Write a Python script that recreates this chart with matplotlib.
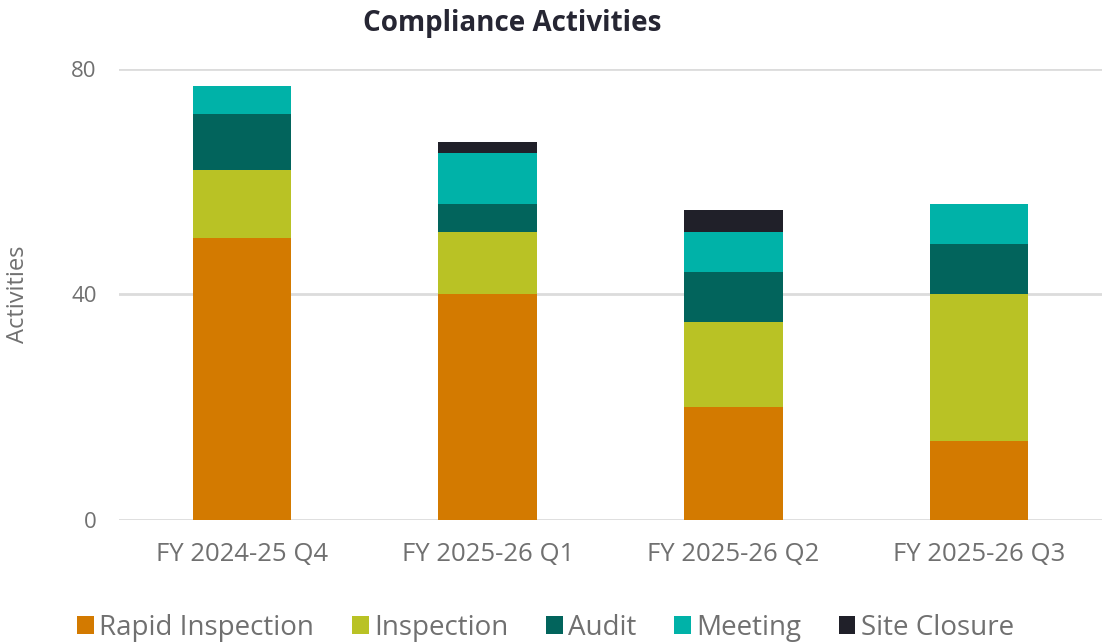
import numpy as np
import matplotlib
matplotlib.use('Agg')
import matplotlib.pyplot as plt

quarters = ['FY 2024-25 Q4', 'FY 2025-26 Q1', 'FY 2025-26 Q2', 'FY 2025-26 Q3']
rapid = [50, 40, 20, 14]
inspection = [12, 11, 15, 26]
audit = [10, 5, 9, 9]
meeting = [5, 9, 7, 7]
site_closure = [0, 2, 4, 0]

series = [('Rapid Inspection', rapid, '#D37A00'),
          ('Inspection', inspection, '#B9C225'),
          ('Audit', audit, '#02645C'),
          ('Meeting', meeting, '#00B2A8'),
          ('Site Closure', site_closure, '#202029')]

plt.rcParams['font.family'] = ['Open Sans', 'DejaVu Sans']

fig = plt.figure(figsize=(11.02, 6.44), dpi=100)
ax = fig.add_axes([0.108, 0.193, 0.892, 0.70])

x = np.arange(len(quarters))
bottom = np.zeros(len(quarters))
for name, vals, col in series:
    ax.bar(x, vals, 0.4, bottom=bottom, color=col, label=name, zorder=3)
    bottom += np.array(vals)

ax.set_ylim(0, 80)
ax.set_xlim(-0.5, 3.5)
ax.set_yticks([0, 40, 80])
ax.set_xticks(x)
ax.set_xticklabels(quarters)
ax.grid(axis='y', color='#dcdcdc', linewidth=2, zorder=0)
for s in ax.spines.values():
    s.set_visible(False)
ax.tick_params(axis='y', length=0, colors='#707070', labelsize=16, pad=16)
ax.tick_params(axis='x', length=0, colors='#707070', labelsize=18.5, pad=16)
ax.set_ylabel('Activities', fontsize=17, color='#707070', labelpad=30)
ax.set_title('Compliance Activities', fontsize=20, fontweight='bold', color='#262633', pad=27, x=0.40)

leg = fig.legend(loc='lower left', bbox_to_anchor=(0.055, -0.022), ncol=5, frameon=False,
                 fontsize=20, handlelength=0.6, handleheight=0.6, handletextpad=0.2,
                 columnspacing=1.35, borderpad=0.1, labelcolor='#707070')

fig.savefig('out.png', dpi=100)
